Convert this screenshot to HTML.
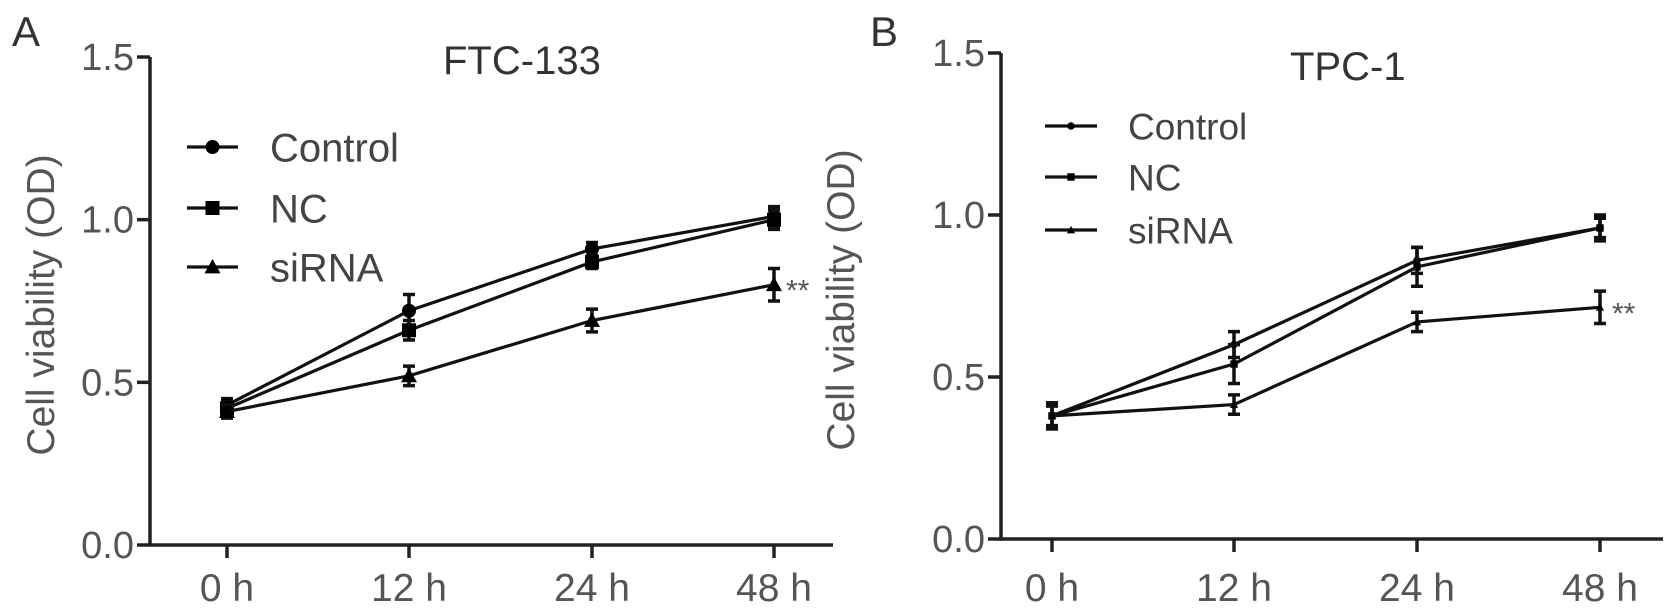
<!DOCTYPE html>
<html><head><meta charset="utf-8"><style>
html,body{margin:0;padding:0;background:#fff;}
svg{display:block;font-family:"Liberation Sans",Arial,sans-serif;}
</style></head><body>
<svg id="chart" width="1677" height="614" viewBox="0 0 1677 614"></svg>
<script>
const categories = ["0 h","12 h","24 h","48 h"];
const yTicks = [0.0, 0.5, 1.0, 1.5];
const yTickLabels = ["0.0","0.5","1.0","1.5"];
const seriesNames = ["Control","NC","siRNA"];
const aControl = [0.43, 0.72, 0.91, 1.01];
const aNC = [0.42, 0.66, 0.87, 1.00];
const aSiRNA = [0.41, 0.52, 0.69, 0.80];
const aControlErr = [0.02, 0.05, 0.02, 0.03];
const aNCErr = [0.02, 0.03, 0.02, 0.03];
const aSiRNAErr = [0.02, 0.03, 0.035, 0.05];
const bControl = [0.38, 0.60, 0.86, 0.96];
const bNC = [0.38, 0.54, 0.84, 0.96];
const bSiRNA = [0.38, 0.415, 0.67, 0.715];
const bControlErr = [0.04, 0.04, 0.04, 0.03];
const bNCErr = [0.04, 0.06, 0.06, 0.04];
const bSiRNAErr = [0.03, 0.03, 0.03, 0.05];

const NS = "http://www.w3.org/2000/svg";
const svg = document.getElementById('chart');
function mk(tag, attrs, parent){const e=document.createElementNS(NS,tag);for(const k in attrs)e.setAttribute(k,attrs[k]);(parent||svg).appendChild(e);return e;}

const panels = [
 {id:'a', letter:'A', lx:12, ly:46, axX:150, y0:545, y15:57, xs:[227,409,592,774], xEnd:833, title:'FTC-133', tx:443, ty:74, tsize:40,
  legX1:187, legX2:238, legTx:270, legY:[147,208,267], legSize:40, msize:1,
  data:[aControl,aNC,aSiRNA], err:[aControlErr,aNCErr,aSiRNAErr], starX:786, ytitleX:40},
 {id:'b', letter:'B', lx:870, ly:46, axX:1001, y0:539, y15:53, xs:[1052,1234,1417,1600], xEnd:1663, title:'TPC-1', tx:1290, ty:80, tsize:40,
  legX1:1045, legX2:1097, legTx:1128, legY:[126,177,230], legSize:37, msize:0.45,
  data:[bControl,bNC,bSiRNA], err:[bControlErr,bNCErr,bSiRNAErr], starX:1612, ytitleX:840}
];

function marker(g, kind, x, y, s){
  let m;
  if(kind===0){ m=mk('circle',{cx:x,cy:y,r:6*s+1,fill:'#000'},g); }
  else if(kind===1){ const h=6*s+1; m=mk('rect',{x:x-h,y:y-h,width:2*h,height:2*h,fill:'#000'},g); }
  else { const h=7*s+1; m=mk('polygon',{points:`${x},${y-h} ${x-h},${y+h*0.8} ${x+h},${y+h*0.8}`,fill:'#000'},g); }
  return m;
}

panels.forEach(p=>{
  const g = mk('g',{});
  
  
  const yS = v => p.y0 - (p.y0-p.y15)*v/1.5;
  const L = mk('text',{x:p.lx,y:p.ly,'font-size':42,fill:'#333'},g); L.textContent=p.letter;
   
  const ya = mk('line',{x1:p.axX,y1:p.y15,x2:p.axX,y2:p.y0,stroke:'#222','stroke-width':3.5},g);
   
  const xa = mk('line',{x1:p.axX-1.5,y1:p.y0,x2:p.xEnd,y2:p.y0,stroke:'#222','stroke-width':3.5},g);
   
  yTicks.forEach((t,i)=>{
    const y=yS(t);
    mk('line',{x1:p.axX-13,y1:y,x2:p.axX,y2:y,stroke:'#222','stroke-width':3.5},g);
    const tl=mk('text',{x:p.axX-16,y:y+13,'font-size':38,fill:'#555','text-anchor':'end'},g);
    tl.textContent=yTickLabels[i];
     
  });
  categories.forEach((c,i)=>{
    const x=p.xs[i];
    mk('line',{x1:x,y1:p.y0,x2:x,y2:p.y0+13,stroke:'#222','stroke-width':3.5},g);
    const tl=mk('text',{x:x,y:601,'font-size':39,fill:'#555','text-anchor':'middle'},g);
    tl.textContent=c;
     
  });
  const yt=mk('text',{x:0,y:0,'font-size':39,fill:'#555','text-anchor':'middle',transform:`translate(${p.ytitleX+14},${(p.y0+p.y15)/2+4}) rotate(-90)`},g);
  yt.textContent='Cell viability (OD)';
   
  const tt=mk('text',{x:p.tx,y:p.ty,'font-size':p.tsize,fill:'#333'},g);
  tt.textContent=p.title;
   
  p.data.forEach((vals,si)=>{
    const sg=mk('g',{},g);
    
    
    const pts=vals.map((v,i)=>p.xs[i]+','+yS(v)).join(' ');
    mk('polyline',{points:pts,fill:'none',stroke:'#111','stroke-width':3.2},sg);
    vals.forEach((v,i)=>{
      const x=p.xs[i], e=p.err[si][i];
      const eb=mk('path',{d:`M${x},${yS(v+e)}V${yS(v-e)}M${x-6},${yS(v+e)}H${x+6}M${x-6},${yS(v-e)}H${x+6}`,stroke:'#111','stroke-width':3.5,fill:'none'},sg);
       
      const m=marker(sg,si,x,yS(v),p.msize);
       
    });
  });
  const st=mk('text',{x:p.starX,y:yS(p.data[2][3])+16,'font-size':30,fill:'#555'},g);
  st.textContent='**';
   
  seriesNames.forEach((n,i)=>{
    const lg=mk('g',{},g);
     
    const y=p.legY[i];
    mk('line',{x1:p.legX1,y1:y,x2:p.legX2,y2:y,stroke:'#111','stroke-width':3.2},lg);
    marker(lg,i,(p.legX1+p.legX2)/2,y,p.msize);
    const t=mk('text',{x:p.legTx,y:y+p.legSize*0.36,'font-size':p.legSize,fill:'#444'},lg);
    t.textContent=n;
  });
});
</script>
</body></html>
